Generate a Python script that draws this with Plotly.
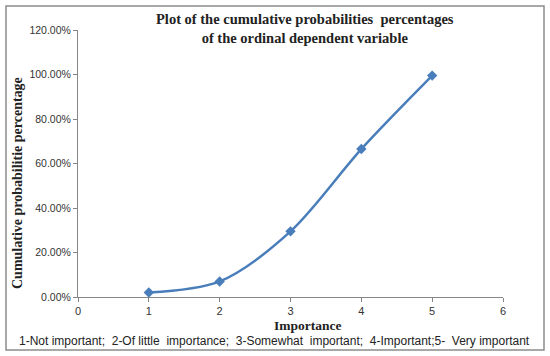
import plotly.graph_objects as go

importance = [1, 2, 3, 4, 5]
cum_pct = [0.02, 0.07, 0.295, 0.665, 0.995]
y_ticks = [0, 0.2, 0.4, 0.6, 0.8, 1.0, 1.2]
y_tick_labels = ["0.00%", "20.00%", "40.00%", "60.00%", "80.00%", "100.00%", "120.00%"]
x_ticks = [0, 1, 2, 3, 4, 5, 6]

W, H = 550, 356
L, R, T, B = 78, 47, 30, 59

fig = go.Figure()
fig.add_trace(go.Scatter(
    x=importance, y=cum_pct, mode="lines+markers",
    line=dict(color="#4A7EBB", width=2.5, shape="spline", smoothing=0.9),
    marker=dict(symbol="diamond", size=8, color="#4A7EBB"),
    showlegend=False, hoverinfo="skip",
))

pw, ph = W - L - R, H - T - B
def px(x):
    return (x - L) / pw
def py(y):
    return (H - B - y) / ph

sans = "Liberation Sans"
serif = "Liberation Serif"

fig.update_layout(
    width=W, height=H,
    margin=dict(l=L, r=R, t=T, b=B, pad=0),
    paper_bgcolor="white", plot_bgcolor="white",
    xaxis=dict(range=[0, 6], tickvals=x_ticks, showgrid=False, zeroline=False,
               showline=True, linecolor="#868686", linewidth=1,
               ticks="outside", ticklen=4, tickcolor="#868686",
               tickfont=dict(family=sans, size=11, color="#333333")),
    yaxis=dict(range=[0, 1.2], tickvals=y_ticks, ticktext=y_tick_labels,
               showgrid=False, zeroline=False,
               showline=True, linecolor="#868686", linewidth=1,
               ticks="outside", ticklen=4, tickcolor="#868686",
               tickfont=dict(family=sans, size=10.5, color="#333333")),
    shapes=[dict(type="rect", xref="paper", yref="paper",
                 x0=px(6), x1=px(544), y0=py(350), y1=py(6),
                 line=dict(color="#8c8c8c", width=1.5))],
    annotations=[
        dict(text="<b>Plot of the cumulative probabilities  percentages<br>of the ordinal dependent variable</b>",
             xref="paper", yref="paper", x=px(305), y=py(29), xanchor="center", yanchor="middle",
             showarrow=False, font=dict(family=serif, size=14.5, color="#222222"), align="center"),
        dict(text="<b>Cumulative probabilitie percentage</b>",
             xref="paper", yref="paper", x=px(17), y=py(183), xanchor="center", yanchor="middle",
             textangle=-90, showarrow=False, font=dict(family=serif, size=14, color="#222222")),
        dict(text="<b>Importance</b>",
             xref="paper", yref="paper", x=px(308), y=py(325), xanchor="center", yanchor="middle",
             showarrow=False, font=dict(family=serif, size=13.5, color="#222222")),
        dict(text="1-Not important;  2-Of little  importance;  3-Somewhat  important;  4-Important;5-  Very important",
             xref="paper", yref="paper", x=px(274), y=py(341), xanchor="center", yanchor="middle",
             showarrow=False, font=dict(family=sans, size=12, color="#222222")),
    ],
)

fig.write_html("out.html", config={"displayModeBar": False},
               post_script="document.body.style.margin='0';")
